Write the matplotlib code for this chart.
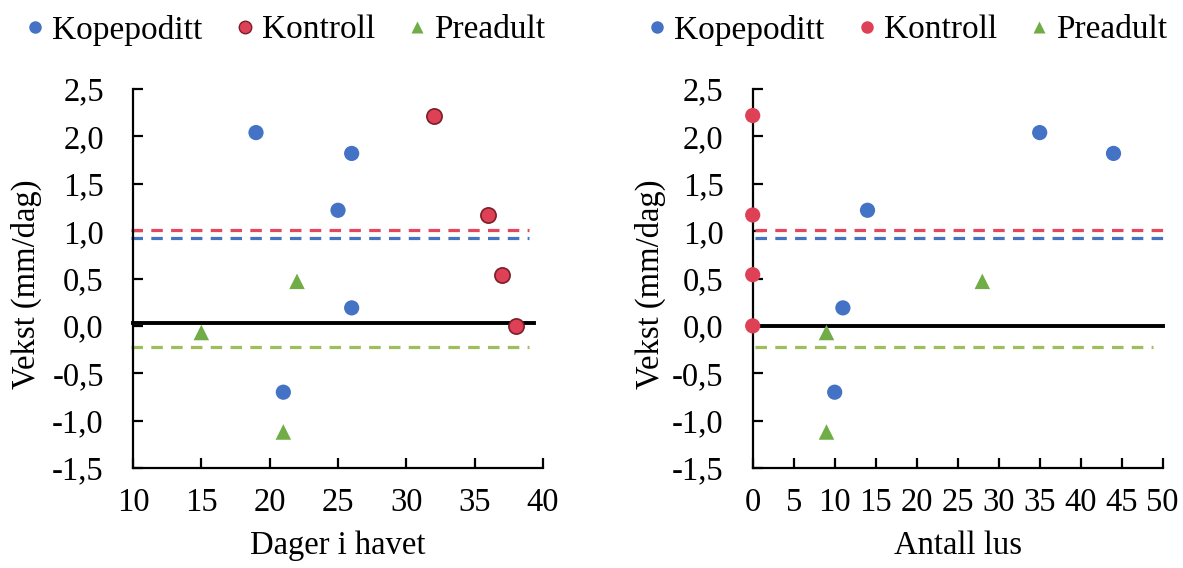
import matplotlib
matplotlib.use("Agg")
import matplotlib.pyplot as plt
from matplotlib.lines import Line2D
from matplotlib.ticker import FuncFormatter, MultipleLocator

plt.rcParams['font.family'] = ['Liberation Serif', 'DejaVu Serif']

# Vekst (mm/dag) per gruppe
kope_dager = [19, 26, 25, 26, 21]
kope_lus = [35, 44, 14, 11, 10]
kope_vekst = [2.04, 1.82, 1.22, 0.19, -0.70]

kontroll_dager = [32, 36, 37, 38]
kontroll_lus = [0, 0, 0, 0]
kontroll_vekst = [2.22, 1.17, 0.54, 0.0]

pre_dager = [15, 22, 21]
pre_lus = [9, 28, 9]
pre_vekst = [-0.07, 0.47, -1.12]

# Gjennomsnitt per gruppe (stiplede linjer)
snitt_kontroll = 1.015
snitt_kope = 0.93
snitt_pre = -0.22

# Nullinje
null_dager = 0.03
null_lus = 0.0

BLUE = '#4472C4'
RED = '#DE4155'
RED_EDGE = '#7A1E29'
GREEN = '#70AD47'
GREEN_LINE = '#9DBE5B'
RED_LINE = '#E4465C'

fig = plt.figure(figsize=(11.83, 5.68), dpi=100)
ax1 = fig.add_axes([133 / 1183, 1 - 468 / 568, 410 / 1183, 379 / 568])
ax2 = fig.add_axes([752.7 / 1183, 1 - 468 / 568, 410 / 1183, 379 / 568])

fmt = FuncFormatter(lambda v, p: f"{v:.1f}".replace('.', ','))
FS = 23.5


def style(ax, xlim, xstep, xlabel, ylx):
    ax.set_xlim(*xlim)
    ax.set_ylim(-1.5, 2.5)
    ax.xaxis.set_major_locator(MultipleLocator(xstep))
    ax.yaxis.set_major_locator(MultipleLocator(0.5))
    ax.yaxis.set_major_formatter(fmt)
    for s in ('top', 'right'):
        ax.spines[s].set_visible(False)
    for s in ('left', 'bottom'):
        ax.spines[s].set_linewidth(1.6)
    ax.tick_params(axis='both', direction='in', length=7, width=1.6,
                   labelsize=FS, colors='black')
    ax.tick_params(axis='y', pad=21)
    ax.tick_params(axis='x', pad=14)
    ax.set_xlabel(xlabel, fontsize=FS)
    ax.xaxis.set_label_coords(0.5, -0.165)
    ax.set_ylabel('Vekst (mm/dag)', fontsize=FS, va='center')
    ax.yaxis.set_label_coords(ylx, 0.485)


def mean_lines(ax, zero, spans):
    dash = (0, (3.6, 2.6))
    ax.axhline(snitt_kontroll, *spans[0], color=RED_LINE, lw=2.3, ls=dash, clip_on=False, zorder=2)
    ax.axhline(snitt_kope, *spans[0], color=BLUE, lw=2.3, ls=dash, clip_on=False, zorder=2)
    ax.axhline(snitt_pre, *spans[1], color=GREEN_LINE, lw=2.3, ls=dash, clip_on=False, zorder=2)
    ax.axhline(zero, *spans[2], color='black', lw=2.8, clip_on=False, zorder=2)


# Venstre: dager i havet
mean_lines(ax1, null_dager, [(-0.004, 0.967), (-0.004, 0.967), (0.0, 0.978)])
ax1.scatter(kope_dager, kope_vekst, s=120, color=BLUE, edgecolors='none', zorder=3, clip_on=False)
ax1.scatter(kontroll_dager, kontroll_vekst, s=120, color=RED, edgecolors=RED_EDGE,
            linewidths=1.2, zorder=3, clip_on=False)
ax1.scatter(pre_dager, pre_vekst, s=125, marker='^', color=GREEN, edgecolors='none', zorder=3, clip_on=False)
style(ax1, (10, 40), 5, 'Dager i havet', -0.259)

# Høyre: antall lus
mean_lines(ax2, null_lus, [(0.006, 1.0), (0.006, 0.976), (0.006, 1.0)])
ax2.scatter(kope_lus, kope_vekst, s=120, color=BLUE, edgecolors='none', zorder=3, clip_on=False)
ax2.scatter(kontroll_lus, kontroll_vekst, s=120, color=RED, edgecolors='none', zorder=3, clip_on=False)
ax2.scatter(pre_lus, pre_vekst, s=125, marker='^', color=GREEN, edgecolors='none', zorder=3, clip_on=False)
style(ax2, (0, 50), 5, 'Antall lus', -0.25)


# Tegnforklaringer
def legend(cx, red_edge):
    handles = [
        Line2D([], [], ls='none', marker='o', ms=9, color=BLUE, mec='none'),
        Line2D([], [], ls='none', marker='o', ms=9, color=RED,
               mec=RED_EDGE if red_edge else 'none', mew=1.0),
        Line2D([], [], ls='none', marker='^', ms=9, color=GREEN, mec='none'),
    ]
    fig.legend(handles, ['Kopepoditt', 'Kontroll', 'Preadult'], ncol=3,
               loc='center', bbox_to_anchor=(cx / 1183, 1 - 30 / 568),
               frameon=False, fontsize=24, handlelength=0.6, handletextpad=0.21,
               columnspacing=0.97, borderpad=0)


legend(285, True)
legend(907, False)

fig.savefig('out.png', dpi=100)
